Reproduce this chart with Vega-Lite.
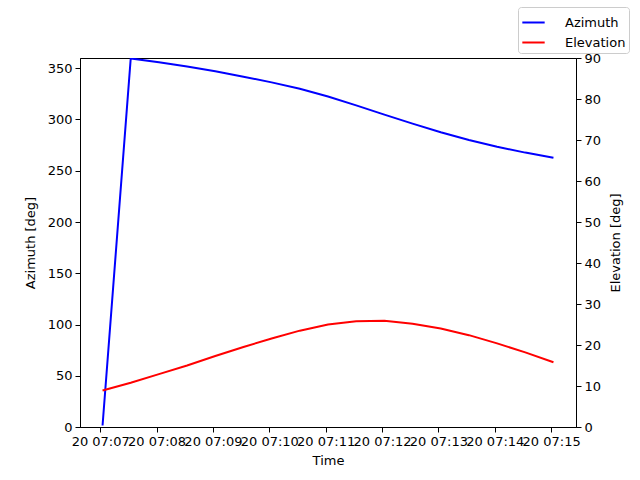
{
  "$schema": "https://vega.github.io/schema/vega-lite/v6.json",
  "width": 496,
  "height": 369,
  "autosize": {"type": "none"},
  "padding": {"left": 80, "top": 58, "right": 64, "bottom": 53},
  "background": "white",
  "config": {
    "font": "DejaVu Sans",
    "view": {"stroke": "black", "strokeWidth": 1},
    "axis": {
      "grid": false,
      "domainColor": "black",
      "domainWidth": 1,
      "tickColor": "black",
      "tickWidth": 1,
      "tickSize": 5,
      "labelColor": "black",
      "labelFontSize": 13,
      "labelPadding": 3,
      "titleColor": "black",
      "titleFontSize": 13,
      "titleFontWeight": "normal",
      "labelFlush": false,
      "labelOverlap": false,
      "labelBound": false
    }
  },
  "data": {
    "values": [
      {"time": "2024-01-20T07:07:02.500Z", "azimuth": 1.5, "elevation": 8.9},
      {"time": "2024-01-20T07:07:32.500Z", "azimuth": 359.6, "elevation": 10.8},
      {"time": "2024-01-20T07:08:02.500Z", "azimuth": 355.8, "elevation": 12.9},
      {"time": "2024-01-20T07:08:32.500Z", "azimuth": 351.6, "elevation": 15.0},
      {"time": "2024-01-20T07:09:02.500Z", "azimuth": 347.0, "elevation": 17.3},
      {"time": "2024-01-20T07:09:32.500Z", "azimuth": 341.8, "elevation": 19.5},
      {"time": "2024-01-20T07:10:02.500Z", "azimuth": 336.2, "elevation": 21.6},
      {"time": "2024-01-20T07:10:32.500Z", "azimuth": 330.0, "elevation": 23.5},
      {"time": "2024-01-20T07:11:02.500Z", "azimuth": 322.5, "elevation": 25.0},
      {"time": "2024-01-20T07:11:32.500Z", "azimuth": 313.8, "elevation": 25.8},
      {"time": "2024-01-20T07:12:02.500Z", "azimuth": 304.8, "elevation": 25.9},
      {"time": "2024-01-20T07:12:32.500Z", "azimuth": 296.0, "elevation": 25.2},
      {"time": "2024-01-20T07:13:02.500Z", "azimuth": 287.6, "elevation": 24.0},
      {"time": "2024-01-20T07:13:32.500Z", "azimuth": 280.0, "elevation": 22.4},
      {"time": "2024-01-20T07:14:02.500Z", "azimuth": 273.4, "elevation": 20.4},
      {"time": "2024-01-20T07:14:32.500Z", "azimuth": 267.7, "elevation": 18.2},
      {"time": "2024-01-20T07:15:02.500Z", "azimuth": 262.7, "elevation": 15.8}
    ]
  },
  "encoding": {
    "x": {
      "field": "time",
      "type": "temporal",
      "title": "Time",
      "scale": {
        "type": "utc",
        "nice": false,
        "domain": [
          {"year": 2024, "month": 1, "date": 20, "hours": 7, "minutes": 6, "seconds": 38, "milliseconds": 500, "utc": true},
          {"year": 2024, "month": 1, "date": 20, "hours": 7, "minutes": 15, "seconds": 26, "milliseconds": 500, "utc": true}
        ]
      },
      "axis": {
        "format": "%d %H:%M",
        "values": [
          {"year": 2024, "month": 1, "date": 20, "hours": 7, "minutes": 7, "utc": true},
          {"year": 2024, "month": 1, "date": 20, "hours": 7, "minutes": 8, "utc": true},
          {"year": 2024, "month": 1, "date": 20, "hours": 7, "minutes": 9, "utc": true},
          {"year": 2024, "month": 1, "date": 20, "hours": 7, "minutes": 10, "utc": true},
          {"year": 2024, "month": 1, "date": 20, "hours": 7, "minutes": 11, "utc": true},
          {"year": 2024, "month": 1, "date": 20, "hours": 7, "minutes": 12, "utc": true},
          {"year": 2024, "month": 1, "date": 20, "hours": 7, "minutes": 13, "utc": true},
          {"year": 2024, "month": 1, "date": 20, "hours": 7, "minutes": 14, "utc": true},
          {"year": 2024, "month": 1, "date": 20, "hours": 7, "minutes": 15, "utc": true}
        ],
        "titlePadding": 6
      }
    }
  },
  "layer": [
    {
      "mark": {"type": "line", "strokeWidth": 2, "clip": true},
      "encoding": {
        "y": {
          "field": "azimuth",
          "type": "quantitative",
          "title": "Azimuth [deg]",
          "scale": {"domain": [0, 360], "nice": false, "zero": true},
          "axis": {"values": [0, 50, 100, 150, 200, 250, 300, 350], "orient": "left", "titlePadding": 10}
        },
        "color": {
          "datum": "Azimuth",
          "type": "nominal",
          "scale": {"domain": ["Azimuth", "Elevation"], "range": ["#0000ff", "#ff0000"]},
          "legend": {
            "orient": "none",
            "legendX": 438,
            "legendY": -51,
            "title": null,
            "symbolType": "stroke",
            "symbolStrokeWidth": 2,
            "symbolSize": 500,
            "labelFontSize": 13,
            "labelColor": "black",
            "labelOffset": 19,
            "strokeColor": "#cccccc",
            "fillColor": "white",
            "cornerRadius": 3,
            "padding": 3,
            "rowPadding": 0
          }
        }
      }
    },
    {
      "mark": {"type": "line", "strokeWidth": 2, "clip": true},
      "encoding": {
        "y": {
          "field": "elevation",
          "type": "quantitative",
          "title": "Elevation [deg]",
          "scale": {"domain": [0, 90], "nice": false, "zero": true},
          "axis": {
            "values": [0, 10, 20, 30, 40, 50, 60, 70, 80, 90],
            "orient": "right",
            "titleAngle": 270,
            "titleX": 39,
            "titleY": 184.5,
            "titleAlign": "center",
            "titleBaseline": "middle"
          }
        },
        "color": {"datum": "Elevation", "type": "nominal"}
      }
    }
  ],
  "resolve": {"scale": {"y": "independent"}}
}
